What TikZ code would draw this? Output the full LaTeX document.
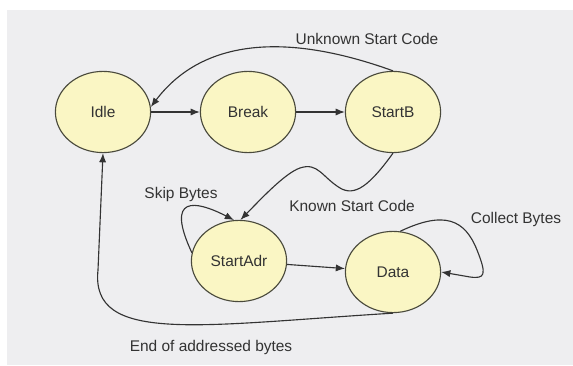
\documentclass[tikz,border=0pt]{standalone}
\usepackage{fontspec}
\setmainfont{Liberation Sans}
\usepackage{tikz}
\usetikzlibrary{shapes.geometric,arrows.meta,positioning}
\definecolor{statefill}{HTML}{FAF6C4}
\definecolor{statedraw}{HTML}{4A4A3C}
\definecolor{panelgray}{HTML}{EEEEF0}
\definecolor{inkgray}{HTML}{333333}

\begin{document}
\begin{tikzpicture}[
  state/.style={ellipse, draw=statedraw, fill=statefill, line width=0.8pt, minimum width=2.38cm, minimum height=2.03cm, inner sep=0pt, font=\fontsize{11}{13}\selectfont, text=inkgray},
  lbl/.style={inner sep=0pt, font=\fontsize{11}{13}\selectfont, text=inkgray},
  edge/.style={draw=inkgray, line width=0.8pt},
  >={Latex[length=2.3mm,width=1.8mm]}
]
\useasboundingbox (0,0) rectangle (14.325,9.125);
\fill[panelgray] (0.175,0) rectangle (14.325,8.875);

\node[state] (idle) at (2.575,6.325) {Idle};
\node[state] (brk) at (6.2,6.325) {Break};
\node[state] (startb) at (9.825,6.325) {StartB};
\node[state] (startadr) at (5.975,2.6) {StartAdr};
\node[state] (data) at (9.825,2.325) {Data};

\node[lbl] (unknown) at (9.175,8.15) {Unknown Start Code};
\node[lbl] (known) at (8.8,3.975) {Known Start Code};
\node[lbl] (skip) at (4.525,4.25) {Skip Bytes};
\node[lbl] (collect) at (12.9,3.625) {Collect Bytes};
\node[lbl] (endaddr) at (5.275,0.425) {End of addressed bytes};

\draw[edge,->] (idle) -- (brk);
\draw[edge,->] (brk) -- (startb);
\draw[edge,->] (startb.north) .. controls (7.0,8.375) and (5.0,8.075) .. (idle.6);
\draw[edge,->] (startb.south) .. controls (9.25,4.5) and (8.875,4.2) .. (8.5,4.425)
  .. controls (8.05,4.7) and (7.95,5.075) .. (7.5,4.925)
  .. controls (7.125,4.8) and (6.5,4.125) .. (startadr.88);
\draw[edge,->] (startadr.170) .. controls (4.125,4.25) and (4.875,4.125) .. (startadr.97);
\draw[edge,->] (startadr) -- (data);
\draw[edge,->] (data.80) .. controls (11.125,3.875) and (11.625,3.625) .. (11.925,2.875)
  .. controls (12.175,2.25) and (12.125,2.15) .. (11.75,2.2) -- (data.east);
\draw[edge,->] (data.south) .. controls (5.0,1.0) and (2.25,0.5) .. (2.45,2.375) -- (idle.south);
\end{tikzpicture}
\end{document}
